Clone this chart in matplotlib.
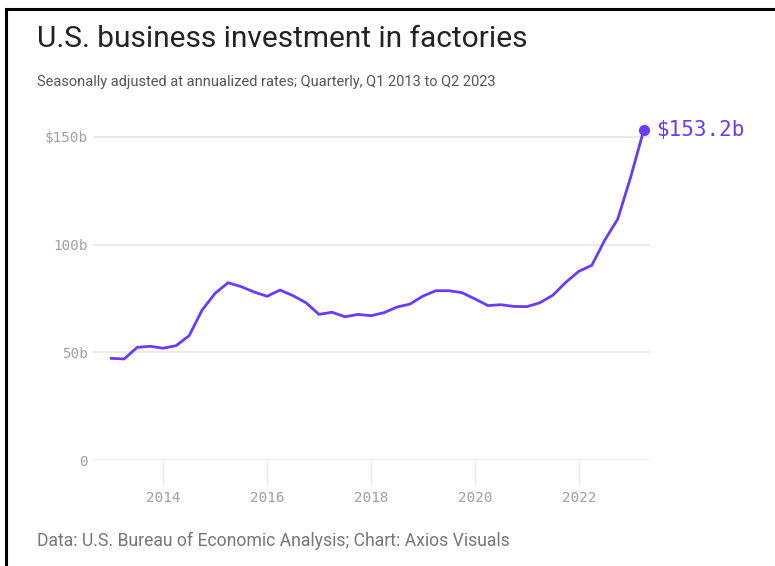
import matplotlib.pyplot as plt
from matplotlib.lines import Line2D

# quarterly values, Q1 2013 .. Q2 2023 (billions of dollars)
years = list(range(2013, 2024))
values = [
    47.2, 46.9, 52.3, 52.8,
    51.9, 53.1, 57.7, 69.6,
    77.4, 82.3, 80.5, 78.0,
    76.0, 78.9, 76.3, 73.0,
    67.6, 68.6, 66.5, 67.6,
    67.0, 68.4, 71.0, 72.4,
    76.1, 78.6, 78.6, 77.7,
    74.8, 71.7, 72.1, 71.3,
    71.2, 73.0, 76.5, 82.5,
    87.6, 90.4, 102.1, 111.9,
    131.5, 153.2,
]
x_ticks = [2014, 2016, 2018, 2020, 2022]
y_ticks = [0, 50, 100, 150]
y_labels = ['0', '50b', '100b', '$150b']

dates = [years[0] + i / 4 for i in range(len(values))]

purple = '#6a3bf7'
W, H = 775, 566
fig = plt.figure(figsize=(W / 100, H / 100), dpi=100)

ax = fig.add_axes([93 / W, (H - 460) / H, (650 - 93) / W, 336 / H])
ax.plot(dates, values, color=purple, lw=2.0, solid_joinstyle='round', zorder=3)
ax.plot(dates[-1], values[-1], 'o', color=purple, ms=7, zorder=4)
ax.annotate(f'${values[-1]}b', (dates[-1], values[-1]), xytext=(9, 0),
            textcoords='offset points', va='center', ha='left',
            color=purple, fontsize=15, family='DejaVu Sans Mono',
            annotation_clip=False)

ax.set_xlim(2012.65, 2023.37)
ax.set_ylim(0, 156)
ax.set_yticks(y_ticks)
ax.set_yticklabels(y_labels)
ax.set_xticks(x_ticks)
ax.grid(axis='y', color='#e8e8e8', lw=1.3)
ax.set_axisbelow(True)
for s in ax.spines.values():
    s.set_visible(False)
ax.tick_params(axis='y', length=0, pad=4, labelcolor='#a0a0a0', labelsize=10.3)
ax.tick_params(axis='x', length=18, width=1, color='#e8e8e8', pad=4,
               labelcolor='#a0a0a0', labelsize=10.3, direction='out')
for lab in ax.get_xticklabels() + ax.get_yticklabels():
    lab.set_family('DejaVu Sans Mono')

fig.text(37 / W, 1 - 39 / H, 'U.S. business investment in factories',
         fontsize=21.5, family='Roboto', color='#222222', va='center')
fig.text(37 / W, 1 - 82 / H,
         'Seasonally adjusted at annualized rates; Quarterly, Q1 2013 to Q2 2023',
         fontsize=10.5, family='Roboto', color='#555555', va='center')
fig.text(37 / W, 1 - 541 / H,
         'Data: U.S. Bureau of Economic Analysis; Chart: Axios Visuals',
         fontsize=12.7, family='Roboto', color='#777777', va='center')

# black frame on left and top edges of the screenshot
fig.add_artist(Line2D([6 / W, 6 / W], [0, 1 - 9 / H], color='black', lw=2.2,
                      transform=fig.transFigure, solid_capstyle='projecting'))
fig.add_artist(Line2D([6 / W, 1], [1 - 9 / H, 1 - 9 / H], color='black', lw=2.2,
                      transform=fig.transFigure, solid_capstyle='projecting'))

fig.savefig('out.png', dpi=100)
